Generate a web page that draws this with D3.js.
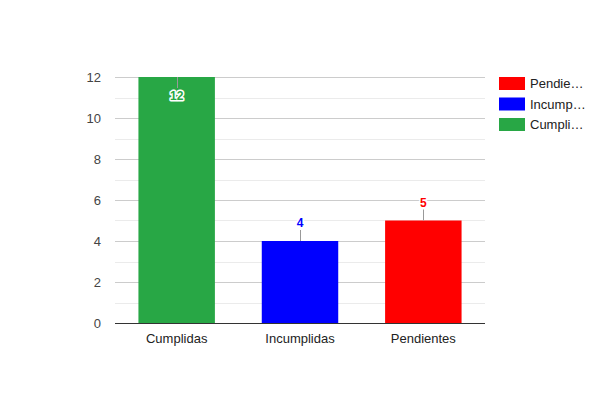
<!DOCTYPE html>
<html>
<head>
<meta charset="utf-8">
<script src="https://cdn.jsdelivr.net/npm/d3@7"></script>
<style>
	body { margin: 0; background: #fff; }
	text { font-family: Arial, "Liberation Sans", sans-serif; }
</style>
</head>
<body>
<div id="chart"></div>
<script>
// Data
const categories = ['Cumplidas', 'Incumplidas', 'Pendientes'];
const values = [12, 4, 5];
const barColors = ['#28a745', '#0000ff', '#ff0000'];
const yTicks = [0, 2, 4, 6, 8, 10, 12];
const yMinorTicks = [1, 3, 5, 7, 9, 11];
// legend is listed in reverse order, as in the reference
const legendLabels = ['Pendientes', 'Incumplidas', 'Cumplidas'];
const legendColors = ['#ff0000', '#0000ff', '#28a745'];

const width = 600;
const height = 400;
const margin = { top: 77, right: 115, bottom: 77, left: 115 };

const svg = d3
	.select('#chart')
	.append('svg')
	.attr('width', width)
	.attr('height', height);

const x = d3
	.scaleBand()
	.domain(categories)
	.range([margin.left, width - margin.right])
	.paddingInner(0.38)
	.paddingOuter(0.19);

const y = d3
	.scaleLinear()
	.domain([0, 12])
	.range([height - margin.bottom, margin.top]);

// Minor gridlines
svg.append('g')
	.selectAll('line')
	.data(yMinorTicks)
	.enter()
	.append('line')
	.attr('x1', margin.left)
	.attr('x2', width - margin.right)
	.attr('y1', (d) => Math.round(y(d)) + 0.5)
	.attr('y2', (d) => Math.round(y(d)) + 0.5)
	.attr('stroke', '#ebebeb');

// Major gridlines + y labels
const yAxis = d3
	.axisLeft(y)
	.tickValues(yTicks)
	.tickSize(-(width - margin.left - margin.right))
	.tickPadding(14)
	.tickFormat(d3.format('d'));

const yG = svg
	.append('g')
	.attr('transform', `translate(${margin.left},0)`)
	.call(yAxis);
yG.select('.domain').remove();
yG.selectAll('.tick line').attr('stroke', '#cccccc');
yG.selectAll('.tick text')
	.attr('fill', '#444')
	.attr('font-size', 13)
	.attr('font-family', 'Arial, "Liberation Sans", sans-serif');

// Bars
svg.append('g')
	.selectAll('rect')
	.data(values)
	.enter()
	.append('rect')
	.attr('x', (d, i) => x(categories[i]))
	.attr('y', (d) => y(d))
	.attr('width', x.bandwidth())
	.attr('height', (d) => y(0) - y(d))
	.attr('fill', (d, i) => barColors[i]);

// Baseline
svg.append('line')
	.attr('x1', margin.left)
	.attr('x2', width - margin.right)
	.attr('y1', y(0) + 0.5)
	.attr('y2', y(0) + 0.5)
	.attr('stroke', '#333');

// X labels
const xAxis = d3.axisBottom(x).tickSize(0).tickPadding(11);
const xG = svg
	.append('g')
	.attr('transform', `translate(0,${y(0)})`)
	.call(xAxis);
xG.select('.domain').remove();
xG.selectAll('.tick text')
	.attr('fill', '#222')
	.attr('font-size', 13)
	.attr('font-family', 'Arial, "Liberation Sans", sans-serif');

// Annotations with stems; one that would leave the plot area goes inside its bar
const stemLen = 11;
const ann = svg
	.append('g')
	.selectAll('g')
	.data(values)
	.enter()
	.append('g');

ann.each(function (d, i) {
	const g = d3.select(this);
	const cx = x(categories[i]) + x.bandwidth() / 2;
	const top = y(d);
	const inside = top - stemLen - 14 < margin.top;
	const stemEnd = inside ? top + stemLen : top - stemLen;
	g.append('line')
		.attr('x1', Math.round(cx) + 0.5)
		.attr('x2', Math.round(cx) + 0.5)
		.attr('y1', top)
		.attr('y2', stemEnd)
		.attr('stroke', '#999');
	g.append('text')
		.attr('x', cx)
		.attr('y', inside ? stemEnd + 12 : stemEnd - 3)
		.attr('text-anchor', 'middle')
		.attr('font-size', 12)
		.attr('font-weight', 'bold')
		.attr('fill', barColors[i])
		.attr('stroke', '#fff')
		.attr('stroke-width', 3)
		.attr('stroke-linejoin', 'round')
		.attr('paint-order', 'stroke')
		.text(d);
});

// Legend
const legend = svg
	.append('g')
	.attr('transform', 'translate(499,77)');

const items = legend
	.selectAll('g')
	.data(legendLabels)
	.enter()
	.append('g')
	.attr('transform', (d, i) => `translate(0,${i * 20.5})`);

items.append('rect')
	.attr('width', 26)
	.attr('height', 13)
	.attr('fill', (d, i) => legendColors[i]);

items.append('text')
	.attr('x', 31)
	.attr('y', 11)
	.attr('font-size', 13)
	.attr('fill', '#222')
	.text((d) => d)
	.each(function (d) {
		// truncate with an ellipsis when the label is too wide
		const el = d3.select(this);
		const maxW = 57;
		if (this.getComputedTextLength() <= maxW) return;
		let s = d;
		while (s.length > 1) {
			s = s.slice(0, -1);
			el.text(s + '…');
			if (this.getComputedTextLength() <= maxW) break;
		}
	});
</script>
</body>
</html>
